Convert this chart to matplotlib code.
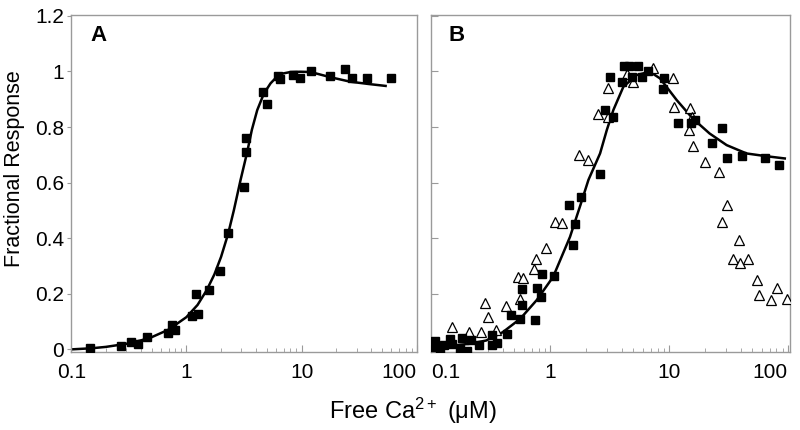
import numpy as np
import matplotlib
matplotlib.use('Agg')
import matplotlib.pyplot as plt
from matplotlib.ticker import LogLocator, NullFormatter

plt.rcParams['font.family'] = ['Liberation Sans', 'DejaVu Sans']
plt.rcParams['mathtext.default'] = 'regular'

# panel A: squares and fitted line
a_x = [0.146, 0.27, 0.33, 0.378, 0.455, 0.69, 0.75, 0.80, 1.12, 1.20, 1.25, 1.58, 1.95,
       2.31, 3.19, 3.30, 3.32, 4.64, 5.0, 6.3, 6.5, 8.4, 9.66, 12.0, 17.6, 23.8, 27.5, 37.2, 60.3]
a_y = [0.005, 0.012, 0.028, 0.02, 0.044, 0.06, 0.086, 0.068, 0.12, 0.198, 0.129, 0.215, 0.282,
       0.419, 0.585, 0.759, 0.711, 0.927, 0.883, 0.984, 0.972, 0.987, 0.975, 1.002, 0.984, 1.009,
       0.978, 0.975, 0.975]
a_fit_x = [0.1, 0.15, 0.2, 0.3, 0.4, 0.5, 0.7, 1.0, 1.25, 1.5, 1.75, 2.0, 2.3, 2.58, 2.95, 3.37,
           3.7, 4.12, 4.7, 5.37, 6.0, 6.57, 8.0, 9.8, 12.0, 17.9, 26.6, 38.0, 53.6]
a_fit_y = [0.0, 0.004, 0.009, 0.02, 0.032, 0.044, 0.071, 0.116, 0.16, 0.213, 0.27, 0.333, 0.415,
           0.5, 0.609, 0.71, 0.79, 0.861, 0.92, 0.957, 0.978, 0.991, 0.998, 0.999, 0.998, 0.979,
           0.963, 0.955, 0.948]

# panel B: squares, triangles and fitted line
b_sq_x = [0.105, 0.108, 0.119, 0.127, 0.144, 0.149, 0.175, 0.183, 0.2, 0.217, 0.25, 0.324,
          0.324, 0.36, 0.433, 0.47, 0.56, 0.578, 0.585, 0.74, 0.77, 0.84, 0.85, 1.07, 1.45,
          1.55, 1.62, 1.82, 2.63, 2.9, 3.19, 3.37, 4.01, 4.19, 4.61, 4.92, 5.45, 5.97, 6.62,
          8.85, 9.14, 11.8, 15.2, 16.5, 22.9, 27.7, 30.5, 41.3, 64.1, 84.5]
b_sq_y = [0.008, 0.029, 0.003, 0.017, 0.039, 0.021, 0.003, 0.041, -0.004, 0.035, 0.017, 0.05,
          0.014, 0.023, 0.057, 0.125, 0.108, 0.159, 0.219, 0.105, 0.221, 0.188, 0.273, 0.264,
          0.519, 0.377, 0.45, 0.549, 0.631, 0.861, 0.979, 0.835, 0.963, 1.021, 1.021, 0.979,
          1.021, 0.981, 1.002, 0.936, 0.975, 0.816, 0.813, 0.825, 0.743, 0.795, 0.689, 0.695,
          0.689, 0.663]
b_tri_x = [0.149, 0.209, 0.263, 0.284, 0.3, 0.352, 0.427, 0.536, 0.56, 0.59, 0.73, 0.76, 0.92,
           1.10, 1.25, 1.75, 2.07, 2.52, 3.05, 3.09, 4.41, 4.95, 7.29, 10.7, 10.9, 14.8, 15.0,
           15.5, 15.8, 20.1, 26.5, 27.7, 30.9, 34.7, 38.7, 39.5, 45.8, 54.6, 57.4, 71.6, 80.4,
           98.6]
b_tri_y = [0.08, 0.062, 0.062, 0.167, 0.116, 0.071, 0.155, 0.261, 0.183, 0.258, 0.291, 0.324,
           0.365, 0.457, 0.453, 0.699, 0.681, 0.847, 0.835, 0.939, 0.991, 0.963, 1.014, 0.975,
           0.873, 0.789, 0.867, 0.835, 0.733, 0.673, 0.639, 0.459, 0.519, 0.327, 0.393, 0.311,
           0.327, 0.249, 0.195, 0.177, 0.222, 0.183]
b_fit_x = [0.1, 0.15, 0.21, 0.29, 0.4, 0.56, 0.77, 1.06, 1.47, 1.8, 2.1, 2.63, 3.0, 3.4, 4.13,
           5.33, 6.9, 8.4, 11.6, 15.8, 21.9, 30.5, 44.8, 66.0, 94.0]
b_fit_y = [0.016, 0.014, 0.02, 0.032, 0.062, 0.11, 0.177, 0.261, 0.405, 0.52, 0.61, 0.705,
           0.79, 0.861, 0.945, 0.987, 0.999, 0.975, 0.897, 0.831, 0.777, 0.735, 0.705, 0.695,
           0.687]

yticks = [0, 0.2, 0.4, 0.6, 0.8, 1, 1.2]
ytick_labels = ['0', '0.2', '0.4', '0.6', '0.8', '1', '1.2']
xticks = [0.1, 1, 10, 100]
xtick_labels = ['0.1', '1', '10', '100']

fig = plt.figure(figsize=(8, 4.3), dpi=100)
axA = fig.add_axes([0.089, 0.181, 0.432, 0.784])
axB = fig.add_axes([0.539, 0.181, 0.4485, 0.784])

gray = '#9a9a9a'

axA.plot(a_fit_x, a_fit_y, color='black', lw=1.8, zorder=2)
axA.plot(a_x, a_y, 's', color='black', ms=6, zorder=3)

axB.plot(b_fit_x, b_fit_y, color='black', lw=1.8, zorder=2)
axB.plot(b_tri_x, b_tri_y, '^', mfc='white', mec='black', mew=0.9, ms=7.5, zorder=3)
axB.plot(b_sq_x, b_sq_y, 's', color='black', ms=6, zorder=4)

for ax in (axA, axB):
    ax.set_xscale('log')
    ax.set_ylim(-0.01, 1.203)
    ax.set_xticks(xticks)
    ax.set_xticklabels(xtick_labels)
    ax.xaxis.set_minor_locator(LogLocator(base=10, subs=np.arange(2, 10)))
    ax.xaxis.set_minor_formatter(NullFormatter())
    ax.set_yticks(yticks)
    for s in ax.spines.values():
        s.set_color(gray)
        s.set_linewidth(1.0)
    ax.tick_params(axis='x', which='major', direction='in', length=5, color=gray,
                   labelsize=15, pad=8)
    ax.tick_params(axis='x', which='minor', direction='in', length=3, color=gray)
    ax.tick_params(axis='y', color=gray, labelsize=15)

axA.set_xlim(0.1, 100)
axB.set_xlim(0.1, 104)

# end labels pulled inside so the two panels' labels do not collide
axA.get_xticklabels()[-1].set_horizontalalignment('right')
axB.get_xticklabels()[0].set_horizontalalignment('left')
axB.get_xticklabels()[-1].set_horizontalalignment('right')

axA.set_yticklabels(ytick_labels)
axA.tick_params(axis='y', direction='out', length=3, pad=2)
axB.tick_params(axis='y', direction='in', length=5, labelleft=False)

axA.text(0.055, 0.94, 'A', transform=axA.transAxes, fontsize=16, fontweight='bold',
         va='center', ha='left')
axB.text(0.047, 0.94, 'B', transform=axB.transAxes, fontsize=16, fontweight='bold',
         va='center', ha='left')

axA.set_ylabel('Fractional Response', fontsize=15.5)
axA.yaxis.set_label_coords(-0.135, 0.545)
fig.text(0.516, 0.045, 'Free Ca$^{2+}$ (\u03bcM)', fontsize=17, ha='center', va='center')

fig.savefig('out.png', dpi=100)
